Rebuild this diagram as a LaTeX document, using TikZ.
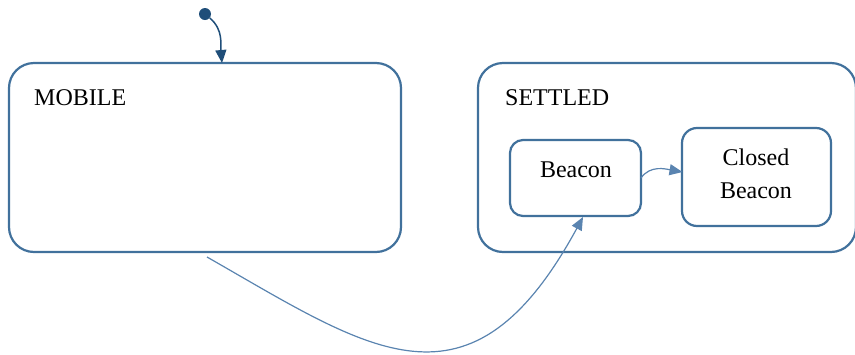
\documentclass[tikz,border=0pt]{standalone}
\usepackage{fontspec}
\setmainfont{Liberation Serif}
\usetikzlibrary{arrows.meta}
\definecolor{boxblue}{HTML}{41719C}
\definecolor{darkblue}{HTML}{1F4E79}
\definecolor{lineblue}{HTML}{5A84B0}
\tikzset{
  state/.style={draw=boxblue, line width=2.2pt, rounded corners=#1, inner sep=0pt, fill=white},
  lbl/.style={font=\fontsize{24}{33}\selectfont, text=black, inner sep=0pt},
  tip/.style={-{Triangle[length=13pt,width=11pt]}},
  trans/.style={draw=lineblue, line width=1.2pt, tip},
}
\begin{document}
\begin{tikzpicture}[x=1pt,y=-1pt]
\useasboundingbox (0,0) rectangle (855,354);
% outer states
\node[state=25pt, minimum width=392pt, minimum height=189pt] (mobile) at (205,157.5) {};
\node[state=25pt, minimum width=378pt, minimum height=189pt] (settled) at (667,157.5) {};
\node[lbl, anchor=base west] (mobilelbl) at (34,105) {MOBILE};
\node[lbl, anchor=base west] (settledlbl) at (505,105) {SETTLED};
% inner states
\node[state=13pt, minimum width=131pt, minimum height=76pt] (beacon) at (575.5,178) {};
\node[state=15pt, minimum width=149pt, minimum height=98pt] (closed) at (756.5,177) {};
\node[lbl, anchor=base] (beaconlbl) at (576,177) {Beacon};
\node[lbl, anchor=base] (closedlbl1) at (756,165) {Closed};
\node[lbl, anchor=base] (closedlbl2) at (756,198) {Beacon};
% initial pseudo state
\node[circle, fill=darkblue, minimum size=12pt, inner sep=0pt] (init) at (205,14) {};
\coordinate (mtop) at (222,63);
\draw[draw=darkblue, line width=1.5pt, tip]
  (init) to[out=-40, in=95] (mtop);
% transitions
\coordinate (mstart) at (207,257);
\coordinate (bbot) at (583,217);
\draw[trans] (mstart) .. controls (370,350) and (470,425) .. (bbot);
\coordinate (bright) at (641,178);
\coordinate (cleft) at (682.5,172);
\draw[trans] (bright) to[out=55, in=170] (cleft);
\end{tikzpicture}
\end{document}
